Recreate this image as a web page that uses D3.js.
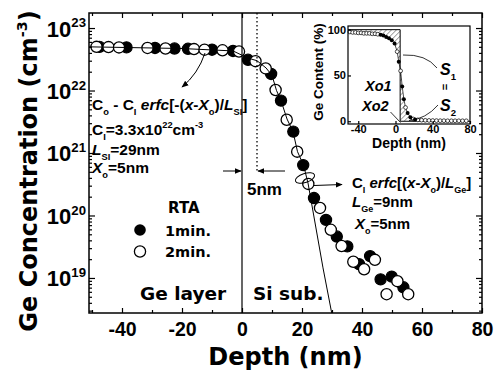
<!DOCTYPE html>
<html>
<head>
<meta charset="utf-8">
<script src="https://cdn.jsdelivr.net/npm/d3@7"></script>
<style>
  body { margin: 0; background: #fff; }
  text { white-space: pre; }
</style>
</head>
<body>
<svg id="chart" width="495" height="370"></svg>
<script>
// ---- data ----
const xMajor = [-40, -20, 0, 20, 40, 60, 80];
const xMinor = [-50, -30, -10, 10, 30, 50, 70];
const yMajor = [1e19, 1e20, 1e21, 1e22, 1e23];

// RTA 1 min (filled)
const rta1 = [[-47.5,5.0e22],[-38.5,4.9e22],[-29,4.8e22],[-22.5,4.7e22],[-18,4.65e22],[-10,4.5e22],[-3,4.3e22],
  [2,3.1e22],[9.7,1.84e22],[13,6.9e21],[17.1,2.2e21],[20.4,6.4e20],[24,1.9e20],[28,8.5e19],[31.6,4.6e19],
  [35.1,3.2e19],[39,1.66e19],[42.7,2.24e19],[46.2,9.5e18],[49.9,1.05e19],[53.8,7.1e18]];
// RTA 2 min (open)
const rta2 = [[-48.5,5.0e22],[-44.5,4.95e22],[-41,4.9e22],[-31.5,4.8e22],[-25.5,4.7e22],[-16,4.6e22],[-12.5,4.5e22],
  [-6.5,4.4e22],[-1,4.2e22],[4.5,2.95e22],[7.9,2.26e22],[11.2,1.02e22],[14.9,3.4e21],[18.4,1.05e21],[22.1,3.2e20],
  [26,1.32e20],[29.6,5.9e19],[33.2,3.24e19],[37.1,1.82e19],[40.7,1.38e19],[44.3,1.95e19],[48.2,5.5e18],
  [51.8,8.9e18],[55.4,5.5e18]];
// fitted erfc curve, traced
const fitLine = [[-51,5.0e22],[-20,4.7e22],[-3,4.3e22],[2,3.3e22],[5,3.0e22],[8,2.3e22],[10,1.75e22],[11.5,1.0e22],
  [13,6.9e21],[15,3.5e21],[17,2.2e21],[18.5,1.05e21],[20.5,6.4e20],[22,3.3e20],[27,1.45e19],[30,2.6e18]];

// inset: Ge content (%)
const insetXTicks = [-40, 0, 40, 80];
const insetYTicks = [0, 50, 100];
const insetOpen = [[-49,97.5],[-46,97],[-43,97],[-40,96.5],[-37,96.5],[-34,96],[-31,96],[-28,96],[-25,95.5],
  [-22,95.5],[-19,95],[1.8,76],[5.5,55],[10.8,15],[19,2.5],[24,1.5],[28,1.2],[32,1],[36,0.9],[40,0.8],[44,0.7],
  [48,0.6],[52,0.6],[56,0.5],[60,0.5],[64,0.5],[68,0.5],[72,0.5],[76,0.5]];
const insetFilled = [[-16,94.5],[-13,93.5],[-10,92],[-7,90.5],[-4,88.5],[-1,85],[3.5,65],[7.2,38],[9,24],
  [13,9],[16,4.5],[21,2]];
const insetStep = [[-51,100],[5,100],[5,0],[80,0]];

const svg = d3.select('#chart');
const L = 89, R = 482, T = 13, B = 313;
const DV = '"DejaVu Sans", sans-serif';
const LS = '"Liberation Sans", Arial, sans-serif';

const x = d3.scaleLinear().domain([-51, 80]).range([L, R]);
const y = d3.scaleLog().domain([2.75e18, 1.74e23]).range([B, T]);

const yMinor = [];
for (let e = 18; e <= 22; e++) for (let m = 2; m <= 9; m++) {
  const v = m * Math.pow(10, e);
  if (v > y.domain()[0] && v < y.domain()[1]) yMinor.push(v);
}

// arrowhead
svg.append('defs').append('marker')
  .attr('id', 'arr').attr('viewBox', '0 0 10 10').attr('refX', 9).attr('refY', 5)
  .attr('markerWidth', 7).attr('markerHeight', 7).attr('orient', 'auto-start-reverse')
  .append('path').attr('d', 'M0,1 L10,5 L0,9 Z').attr('fill', '#000');

const pat = svg.select('defs').append('pattern')
  .attr('id', 'hatch').attr('patternUnits', 'userSpaceOnUse').attr('width', 3.5).attr('height', 3.5)
  .attr('patternTransform', 'rotate(45)');
pat.append('line').attr('x1', 0).attr('y1', 0).attr('x2', 0).attr('y2', 3.5)
  .attr('stroke', '#000').attr('stroke-width', 0.7);

svg.select('defs').append('clipPath').attr('id', 'plotclip')
  .append('rect').attr('x', L).attr('y', T).attr('width', R - L).attr('height', B - T);

// rich text helper: segments [text, mode] mode has i / sub / sup
function rich(g, px, py, segs, size, family, anchor) {
  const t = g.append('text').attr('x', px).attr('y', py).attr('fill', '#000')
    .attr('font-size', size).attr('font-family', family).attr('font-weight', 'bold')
    .attr('text-anchor', anchor || 'start');
  let off = 0;
  segs.forEach(([str, mode = '']) => {
    const target = mode.includes('sub') ? size * 0.3 : mode.includes('sup') ? -size * 0.42 : 0;
    t.append('tspan').attr('dy', target - off)
      .attr('font-size', target ? size * 0.6 : size)
      .attr('font-style', mode === 'i' ? 'italic' : null)
      .text(str);
    off = target;
  });
  return t;
}

// data marks
const plot = svg.append('g');
plot.selectAll('.f').data(rta1).enter().append('circle')
  .attr('cx', d => x(d[0])).attr('cy', d => y(d[1])).attr('r', 5.6)
  .attr('fill', '#000').attr('stroke', '#000').attr('stroke-width', 1.2);
plot.selectAll('.o').data(rta2).enter().append('circle')
  .attr('cx', d => x(d[0])).attr('cy', d => y(d[1])).attr('r', 5.6)
  .attr('fill', '#fff').attr('stroke', '#000').attr('stroke-width', 1.3);

plot.append('path').datum(fitLine)
  .attr('clip-path', 'url(#plotclip)')
  .attr('d', d3.line().x(d => x(d[0])).y(d => y(d[1])))
  .attr('fill', 'none').attr('stroke', '#000').attr('stroke-width', 1);

// layer boundary and X0 marker
svg.append('line').attr('x1', x(0)).attr('x2', x(0)).attr('y1', T).attr('y2', B)
  .attr('stroke', '#000').attr('stroke-width', 1.2);
svg.append('line').attr('x1', x(5)).attr('x2', x(5)).attr('y1', T).attr('y2', 173)
  .attr('stroke', '#000').attr('stroke-width', 1.3).attr('stroke-dasharray', '1.5,2.5');

// axes
function styleAxis(g) {
  g.select('.domain').remove();
  g.selectAll('line').attr('stroke', '#000').attr('stroke-width', 1.2);
}
svg.append('g').attr('transform', `translate(0,${B})`)
  .call(d3.axisBottom(x).tickValues(xMajor).tickSize(-5).tickPadding(9))
  .call(styleAxis)
  .call(g => g.selectAll('text').attr('font-size', 19.5).attr('font-family', LS).attr('font-weight', 'bold')
    .text(d => d));
svg.append('g').attr('transform', `translate(0,${B})`)
  .call(d3.axisBottom(x).tickValues(xMinor).tickSize(-3).tickFormat('')).call(styleAxis);
svg.append('g').attr('transform', `translate(0,${T})`)
  .call(d3.axisTop(x).tickValues(xMajor).tickSize(-5).tickFormat('')).call(styleAxis);
svg.append('g').attr('transform', `translate(0,${T})`)
  .call(d3.axisTop(x).tickValues(xMinor).tickSize(-3).tickFormat('')).call(styleAxis);

svg.append('g').attr('transform', `translate(${L},0)`)
  .call(d3.axisLeft(y).tickValues(yMajor).tickSize(-6).tickPadding(3).tickFormat(''))
  .call(styleAxis)
  .call(g => g.selectAll('.tick').each(function (d) {
    const tk = d3.select(this);
    tk.select('text').remove();
    rich(tk, -3, 8, [['10'], [String(Math.round(Math.log10(d))), 'sup']], 22, LS, 'end');
  }));
svg.append('g').attr('transform', `translate(${L},0)`)
  .call(d3.axisLeft(y).tickValues(yMinor).tickSize(-3).tickFormat('')).call(styleAxis);
svg.append('g').attr('transform', `translate(${R},0)`)
  .call(d3.axisRight(y).tickValues(yMajor).tickSize(-6).tickFormat('')).call(styleAxis);
svg.append('g').attr('transform', `translate(${R},0)`)
  .call(d3.axisRight(y).tickValues(yMinor).tickSize(-3).tickFormat('')).call(styleAxis);

svg.append('rect').attr('x', L).attr('y', T).attr('width', R - L).attr('height', B - T)
  .attr('fill', 'none').attr('stroke', '#000').attr('stroke-width', 1.5);

// axis titles
svg.append('text').attr('x', (L + R) / 2).attr('y', 365).attr('text-anchor', 'middle')
  .attr('font-size', 24).attr('font-family', DV).attr('font-weight', 'bold').text('Depth (nm)');
const yt = svg.append('g').attr('transform', 'translate(37,171) rotate(-90)');
rich(yt, 0, 0, [['Ge Concentration (cm'], ['-3', 'sup'], [')']], 24, DV, 'middle');

// region labels
svg.append('text').attr('x', 140).attr('y', 300).attr('font-size', 18.5).attr('font-family', DV)
  .attr('font-weight', 'bold').text('Ge layer');
svg.append('text').attr('x', 253).attr('y', 300).attr('font-size', 18.5).attr('font-family', DV)
  .attr('font-weight', 'bold').text('Si sub.');

// legend
svg.append('text').attr('x', 168).attr('y', 213).attr('font-size', 15).attr('font-family', DV)
  .attr('font-weight', 'bold').text('RTA');
svg.append('circle').attr('cx', 140).attr('cy', 230).attr('r', 5.8).attr('fill', '#000');
svg.append('circle').attr('cx', 140).attr('cy', 251.5).attr('r', 5.6).attr('fill', '#fff')
  .attr('stroke', '#000').attr('stroke-width', 1.3);
svg.append('text').attr('x', 165).attr('y', 235.5).attr('font-size', 14.5).attr('font-family', DV)
  .attr('font-weight', 'bold').text('1min.');
svg.append('text').attr('x', 165).attr('y', 257).attr('font-size', 14.5).attr('font-family', DV)
  .attr('font-weight', 'bold').text('2min.');

// left annotation
const ann = svg.append('g');
rich(ann, 92, 110, [['C'], ['o', 'sub'], [' - C'], ['I', 'sub'], [' '], ['erfc', 'i'], ['[-('], ['x', 'i'], ['-'],
  ['X', 'i'], ['o', 'sub'], [')/'], ['L', 'i'], ['SI', 'sub'], [']']], 15.5, LS);
rich(ann, 92, 135, [['C'], ['I', 'sub'], ['=3.3x10'], ['22', 'sup'], ['cm'], ['-3', 'sup']], 15.5, LS);
rich(ann, 92, 155, [['L', 'i'], ['SI', 'sub'], ['=29nm']], 15.5, LS);
rich(ann, 92, 173, [['X', 'i'], ['o', 'sub'], ['=5nm']], 15.5, LS);
ann.append('path').attr('d', 'M205,53 Q198,74 182,87').attr('fill', 'none')
  .attr('stroke', '#000').attr('stroke-width', 1).attr('marker-end', 'url(#arr)');

// right annotation
rich(ann, 352, 188, [['C'], ['I', 'sub'], [' '], ['erfc', 'i'], ['[('], ['x', 'i'], ['-'], ['X', 'i'], ['o', 'sub'],
  [')/'], ['L', 'i'], ['Ge', 'sub'], [']']], 15, LS);
rich(ann, 352, 207, [['L', 'i'], ['Ge', 'sub'], ['=9nm']], 15, LS);
rich(ann, 355, 229, [['X', 'i'], ['o', 'sub'], ['=5nm']], 15, LS);
ann.append('ellipse').attr('cx', 305).attr('cy', 178).attr('rx', 10).attr('ry', 4.5)
  .attr('transform', 'rotate(-18,305,178)').attr('fill', 'none').attr('stroke', '#000').attr('stroke-width', 1);
ann.append('path').attr('d', 'M314,185.5 L342,184.5').attr('fill', 'none')
  .attr('stroke', '#000').attr('stroke-width', 1).attr('marker-end', 'url(#arr)');

// 5nm marker
ann.append('line').attr('x1', 223).attr('y1', 171).attr('x2', x(0) - 1).attr('y2', 171)
  .attr('stroke', '#000').attr('stroke-width', 1).attr('marker-end', 'url(#arr)');
ann.append('line').attr('x1', 285).attr('y1', 171).attr('x2', x(5) + 1).attr('y2', 171)
  .attr('stroke', '#000').attr('stroke-width', 1).attr('marker-end', 'url(#arr)');
ann.append('text').attr('x', 247).attr('y', 195).attr('font-size', 17).attr('font-family', LS)
  .attr('font-weight', 'bold').text('5nm');

// ---- inset ----
const iL = 348, iR = 470, iT = 26, iB = 124;
const xi = d3.scaleLinear().domain([-51, 80]).range([iL, iR]);
const yi = d3.scaleLinear().domain([-3, 104]).range([iB, iT]);
const inset = svg.append('g');
inset.append('rect').attr('x', iL).attr('y', iT).attr('width', iR - iL).attr('height', iB - iT)
  .attr('fill', '#fff').attr('stroke', 'none');

const curve = insetOpen.concat(insetFilled).sort((a, b) => a[0] - b[0]);
const left = curve.filter(d => d[0] <= 5);
const right = curve.filter(d => d[0] >= 5);
const s1 = [[-51, 100]].concat(left, [[5, left[left.length - 1][1] - 3], [5, 100]]);
const s2 = [[5, 100 - 45]].concat(right, [[80, 0], [5, 0]]);
const area = d3.line().x(d => xi(d[0])).y(d => yi(d[1]));
inset.append('path').attr('d', area(s1) + 'Z').attr('fill', 'url(#hatch)');
inset.append('path').attr('d', area(s2) + 'Z').attr('fill', 'url(#hatch)');

inset.append('path').datum(insetStep).attr('d', area).attr('fill', 'none')
  .attr('stroke', '#000').attr('stroke-width', 1);
inset.append('path').datum(curve).attr('d', area).attr('fill', 'none')
  .attr('stroke', '#000').attr('stroke-width', 0.7);
inset.selectAll('.io').data(insetOpen).enter().append('circle')
  .attr('cx', d => xi(d[0])).attr('cy', d => yi(d[1])).attr('r', 1.9)
  .attr('fill', '#fff').attr('stroke', '#000').attr('stroke-width', 0.7);
inset.selectAll('.if').data(insetFilled).enter().append('circle')
  .attr('cx', d => xi(d[0])).attr('cy', d => yi(d[1])).attr('r', 2)
  .attr('fill', '#000');

inset.append('g').attr('transform', `translate(0,${iB})`)
  .call(d3.axisBottom(xi).tickValues(insetXTicks).tickSize(-3).tickPadding(1))
  .call(styleAxis)
  .call(g => g.selectAll('text').attr('font-size', 11).attr('font-family', LS).attr('font-weight', 'bold')
    .text(d => d));
inset.append('g').attr('transform', `translate(${iL},0)`)
  .call(d3.axisLeft(yi).tickValues(insetYTicks).tickSize(-3).tickPadding(2))
  .call(styleAxis)
  .call(g => g.selectAll('text').attr('font-size', 11).attr('font-family', LS).attr('font-weight', 'bold'));
inset.append('rect').attr('x', iL).attr('y', iT).attr('width', iR - iL).attr('height', iB - iT)
  .attr('fill', 'none').attr('stroke', '#000').attr('stroke-width', 1.2);

inset.append('text').attr('x', (iL + iR) / 2).attr('y', 148).attr('text-anchor', 'middle')
  .attr('font-size', 14).attr('font-family', LS).attr('font-weight', 'bold').text('Depth (nm)');
inset.append('text').attr('transform', 'translate(323,72) rotate(-90)').attr('text-anchor', 'middle')
  .attr('font-size', 13.5).attr('font-family', LS).attr('font-weight', 'bold').text('Ge Content (%)');

rich(inset, 440, 75, [['S', 'i'], ['1', 'sub']], 16, LS);
inset.append('text').attr('transform', 'translate(445,87) rotate(90)').attr('text-anchor', 'middle')
  .attr('font-size', 11).attr('font-family', LS).attr('font-weight', 'bold').attr('dy', '0.35em').text('=');
rich(inset, 440, 111, [['S', 'i'], ['2', 'sub']], 16, LS);
inset.append('text').attr('x', 365).attr('y', 91).attr('font-size', 14.5).attr('font-family', LS)
  .attr('font-weight', 'bold').attr('font-style', 'italic').text('Xo1');
inset.append('text').attr('x', 362).attr('y', 111).attr('font-size', 14.5).attr('font-family', LS)
  .attr('font-weight', 'bold').attr('font-style', 'italic').text('Xo2');
inset.append('path').attr('d', 'M403,55 Q426,54 437,68').attr('fill', 'none').attr('stroke', '#000').attr('stroke-width', 0.8);
inset.append('path').attr('d', 'M438,105 Q426,119 409,120.5').attr('fill', 'none').attr('stroke', '#000').attr('stroke-width', 0.8);
inset.append('path').attr('d', 'M390.5,112 L400.5,122.5').attr('fill', 'none').attr('stroke', '#000').attr('stroke-width', 0.8);
</script>
</body>
</html>
